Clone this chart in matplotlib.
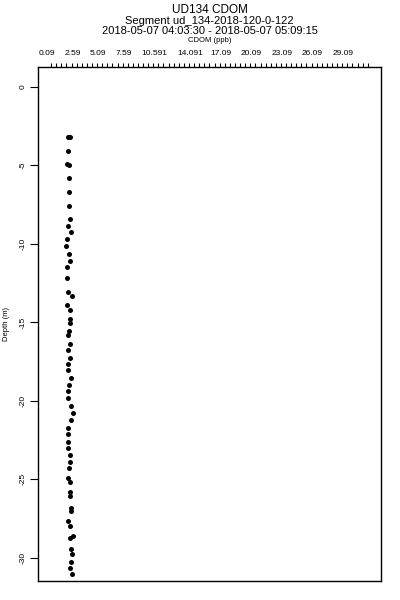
import numpy as np
import matplotlib
matplotlib.use("Agg")
import matplotlib.pyplot as plt

plt.rcParams['font.family'] = ['Liberation Sans', 'DejaVu Sans']

# depth (m) and CDOM (ppb)
depth = [-3.18, -3.18, -4.07, -4.91, -4.95, -5.80, -6.69, -7.61, -8.39, -8.84,
         -9.26, -9.68, -10.15, -10.64, -11.06, -11.46, -12.16, -13.05, -13.29, -13.86,
         -14.18, -14.77, -15.02, -15.56, -15.83, -16.40, -16.76, -17.25, -17.67, -18.04,
         -18.52, -18.99, -19.39, -19.82, -20.32, -20.74, -21.23, -21.70, -22.14, -22.61,
         -23.01, -23.46, -23.92, -24.30, -24.88, -25.19, -25.79, -26.05, -26.85, -27.04,
         -27.64, -27.95, -28.63, -28.75, -29.43, -29.73, -30.24, -30.66, -31.02]
cdom = [2.10, 2.30, 2.12, 2.08, 2.20, 2.25, 2.25, 2.22, 2.35, 2.18,
        2.41, 2.02, 1.98, 2.25, 2.32, 2.08, 2.08, 2.18, 2.54, 2.08,
        2.32, 2.32, 2.32, 2.28, 2.18, 2.35, 2.18, 2.35, 2.12, 2.18,
        2.44, 2.28, 2.15, 2.15, 2.44, 2.61, 2.44, 2.18, 2.18, 2.15,
        2.18, 2.35, 2.32, 2.22, 2.12, 2.35, 2.32, 2.35, 2.41, 2.41,
        2.18, 2.35, 2.61, 2.35, 2.41, 2.51, 2.44, 2.32, 2.51]

xtick_pos = [0.09, 2.59, 5.09, 7.59, 10.591, 14.091, 17.09, 20.09, 23.09, 26.09, 29.09]
xtick_lab = ['0.09', '2.59', '5.09', '7.59', '10.591', '14.091', '17.09', '20.09',
             '23.09', '26.09', '29.09']
ytick_pos = [0, -5, -10, -15, -20, -25, -30]

fig = plt.figure(figsize=(4, 6), dpi=100)
ax = fig.add_axes([0.095, 0.0317, 0.8575, 0.8567])

ax.plot(cdom, depth, 'o', color='black', markersize=3.6, markeredgewidth=0)

ax.set_xlim(-0.79, 32.8)
ax.set_ylim(-31.47, 1.27)

ax.xaxis.tick_top()
ax.set_xticks(xtick_pos)
ax.set_xticklabels(xtick_lab, fontsize=6)
ax.set_xticks(np.arange(0.5, 31.6, 0.5), minor=True)
ax.tick_params(axis='x', which='major', length=0, pad=7)
ax.tick_params(axis='x', which='minor', length=3, width=0.8, direction='out')

ax.set_yticks(ytick_pos)
ax.set_yticklabels([str(v) for v in ytick_pos], rotation=90, va='center', fontsize=6)
ax.tick_params(axis='y', length=6, width=0.8, pad=2)

for s in ax.spines.values():
    s.set_linewidth(1.0)

ax.set_ylabel('Depth (m)', fontsize=5.5)
ax.yaxis.set_label_coords(-0.083, 0.5)

cx = 0.095 + 0.8575 / 2
fig.text(cx, 1 - 10 / 600, 'UD134 CDOM', ha='center', va='center', fontsize=8.5)
fig.text(cx, 1 - 21 / 600, 'Segment ud_134-2018-120-0-122', ha='center', va='center', fontsize=8)
fig.text(cx, 1 - 31 / 600, '2018-05-07 04:03:30 - 2018-05-07 05:09:15', ha='center',
         va='center', fontsize=8)
fig.text(cx, 1 - 40 / 600, 'CDOM (ppb)', ha='center', va='center', fontsize=5.5)

fig.savefig('out.png', dpi=100)
plt.close(fig)
